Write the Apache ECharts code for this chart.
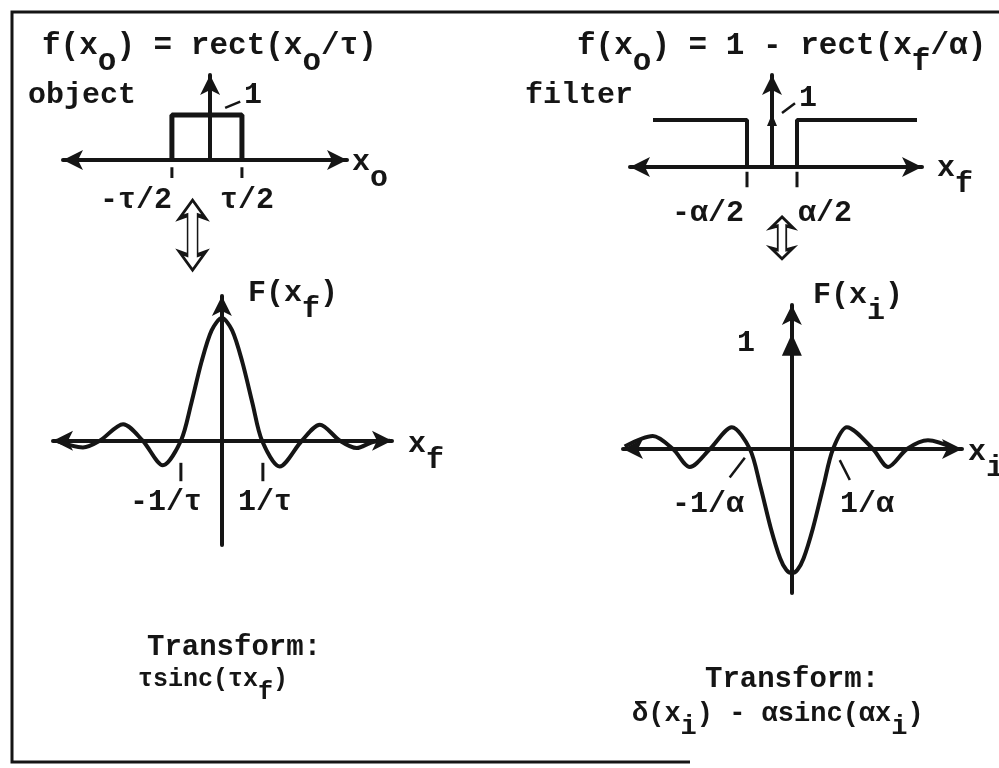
<!DOCTYPE html>
<html>
<head>
<meta charset="UTF-8">
<title>rect / sinc transform pairs</title>
<script src="https://cdn.jsdelivr.net/npm/echarts@6/dist/echarts.min.js"></script>
</head>
<body style="margin:0;background:#fff">
<div id="main" style="width:999px;height:768px;"></div>
<script>
// ---- data (x in label units, y normalised to 1) ----
// panel 1: object rect(x_o / tau), x unit = tau/2
var objRect = [[-1.09, 0], [-1.09, 1], [0.91, 1], [0.91, 0]];
var objTicks = [[[-1.09, -0.16], [-1.09, -0.4]], [[0.91, -0.16], [0.91, -0.4]]];
var objLeader = [[0.43, 1.16], [0.86, 1.3]];
var objSwap = [[-0.5, -1.67]];

// panel 2: filter 1 - rect(x_f / alpha), x unit = alpha/2
var filterLeft = [[-4.76, 1], [-1.0, 1], [-1.0, 0]];
var filterRight = [[1.0, 0], [1.0, 1], [5.8, 1]];
var filterTicks = [[[-1, -0.1], [-1, -0.43]], [[1, -0.1], [1, -0.43]]];
var filterLeader = [[0.4, 1.15], [0.92, 1.36]];
var filterPeak = [[0, 1]];
var filterSwap = [[0.4, -1.51]];

// panel 3: tau sinc(tau x_f), x unit = 1/tau
var sincX = [-4.05, -3.39, -2.98, -2.41, -1.93, -1.44, -1.0, -0.75, -0.5, -0.25, 0, 0.25, 0.5, 0.75, 0.98, 1.41, 1.95, 2.39, 2.88, 3.29, 3.68, 4.1];
var sincY = [0, -0.055, 0, 0.135, 0, -0.2, 0, 0.3, 0.64, 0.9, 1, 0.9, 0.64, 0.3, 0, -0.21, 0, 0.13, 0, -0.06, -0.01, 0];
var sincTicks = [[[-1, -0.18], [-1, -0.33]], [[1, -0.18], [1, -0.33]]];

// panel 4: delta(x_i) - alpha sinc(alpha x_i), x unit = 1/alpha
var imgX = [-3.98, -3.31, -2.83, -2.43, -1.95, -1.43, -1.0, -0.75, -0.5, -0.28, -0.13, 0, 0.13, 0.28, 0.5, 0.75, 0.98, 1.31, 1.93, 2.29, 2.74, 3.24, 3.9];
var imgY = [0.02, 0.105, 0, -0.145, 0, 0.175, 0, -0.3, -0.64, -0.88, -0.975, -1.0, -0.975, -0.88, -0.64, -0.3, 0, 0.175, 0, -0.145, 0, 0.07, 0];
var deltaMark = [[0, 0.84]];
var imgLeaders = [[[-1.12, -0.07], [-1.48, -0.23]], [[1.14, -0.09], [1.38, -0.25]]];

var ink = '#151515';
var myChart = echarts.init(document.getElementById('main'));

function zip(xs, ys) {
  return xs.map(function (x, i) { return [x, ys[i]]; });
}

function lineSeries(grid, data, width, smooth) {
  return {
    type: 'line', xAxisIndex: grid, yAxisIndex: grid, data: data,
    symbol: 'none', smooth: smooth || false, clip: false, silent: true,
    lineStyle: { color: ink, width: width }
  };
}

function markSeries(grid, data, symbol, size, fill) {
  return {
    type: 'scatter', xAxisIndex: grid, yAxisIndex: grid, data: data, clip: false, silent: true,
    symbol: symbol, symbolSize: size,
    itemStyle: { color: fill, borderColor: ink, borderWidth: fill === ink ? 0 : 2.5, opacity: 1 }
  };
}

function makeAxes(grid, xr, yr) {
  var lineStyle = { color: ink, width: 4 };
  return {
    x: {
      gridIndex: grid, type: 'value', min: xr[0], max: xr[1],
      axisLine: { onZero: true, lineStyle: lineStyle, symbol: ['arrow', 'arrow'], symbolSize: [15, 20] },
      axisTick: { show: false }, axisLabel: { show: false }, splitLine: { show: false }
    },
    y: {
      gridIndex: grid, type: 'value', min: yr[0], max: yr[1],
      axisLine: { onZero: true, lineStyle: lineStyle, symbol: ['none', 'arrow'], symbolSize: [15, 20] },
      axisTick: { show: false }, axisLabel: { show: false }, splitLine: { show: false }
    }
  };
}

var axes = [
  makeAxes(0, [-4.2, 3.91], [0, 1.89]),
  makeAxes(1, [-5.68, 6.0], [0, 1.96]),
  makeAxes(2, [-4.12, 4.15], [-0.85, 1.18]),
  makeAxes(3, [-4.02, 4.05], [-1.16, 1.16])
];

var swapPath = 'path://M13,0 L26,18 L18,15 L18,55 L26,52 L13,70 L0,52 L8,55 L8,15 L0,18 Z';

var series = [];
series.push(lineSeries(0, objRect, 5));
objTicks.forEach(function (t) { series.push(lineSeries(0, t, 3)); });
series.push(lineSeries(0, objLeader, 2.5));
series.push(markSeries(0, objSwap, swapPath, [26, 70], '#fff'));

series.push(lineSeries(1, filterLeft, 4));
series.push(lineSeries(1, filterRight, 4));
filterTicks.forEach(function (t) { series.push(lineSeries(1, t, 3)); });
series.push(lineSeries(1, filterLeader, 2.5));
series.push(markSeries(1, filterPeak, 'triangle', [10, 12], ink));
series.push(markSeries(1, filterSwap, swapPath, [22, 42], '#fff'));

series.push(lineSeries(2, zip(sincX, sincY), 4, 0.3));
sincTicks.forEach(function (t) { series.push(lineSeries(2, t, 3)); });

series.push(lineSeries(3, zip(imgX, imgY), 4, 0.3));
imgLeaders.forEach(function (t) { series.push(lineSeries(3, t, 2.5)); });
series.push(markSeries(3, deltaMark, 'triangle', [20, 22], ink));

// text helpers: {s|..} drops a character to subscript position
function rich(size, drop) {
  return {
    s: {
      fontFamily: 'Liberation Mono', fontWeight: 'bold', fontSize: size,
      fill: ink, color: ink, padding: [drop * 2, 0, 0, 0]
    }
  };
}
function txt(x, y, s, size, drop) {
  size = size || 30;
  return {
    type: 'text', x: x, y: y, silent: true,
    style: {
      text: s, fill: ink,
      font: 'bold ' + size + 'px "Liberation Mono"',
      fontFamily: 'Liberation Mono', fontWeight: 'bold', fontSize: size,
      textAlign: 'left', align: 'left',
      textVerticalAlign: 'middle', verticalAlign: 'middle',
      rich: rich(size, drop || 16)
    }
  };
}

var graphics = [
  { type: 'polyline', silent: true, shape: { points: [[999, 12], [12, 12], [12, 762], [690, 762]] },
    style: { stroke: ink, lineWidth: 3, fill: null } },

  txt(42, 46, 'f(x{s|o}) = rect(x{s|o}/τ)', 31),
  txt(28, 95, 'object'),
  txt(244, 95, '1'),
  txt(100, 200, '-τ/2'),
  txt(220, 200, 'τ/2'),
  txt(352, 162, 'x{s|o}'),

  txt(577, 46, 'f(x{s|o}) = 1 - rect(x{s|f}/α)', 31),
  txt(525, 95, 'filter'),
  txt(799, 98, '1'),
  txt(672, 213, '-α/2'),
  txt(798, 213, 'α/2'),
  txt(937, 168, 'x{s|f}'),

  txt(248, 293, 'F(x{s|f})'),
  txt(408, 444, 'x{s|f}'),
  txt(130, 502, '-1/τ'),
  txt(238, 502, '1/τ'),

  txt(813, 295, 'F(x{s|i})'),
  txt(737, 343, '1'),
  txt(968, 452, 'x{s|i}'),
  txt(672, 504, '-1/α'),
  txt(840, 504, '1/α'),

  txt(147, 648, 'Transform:', 29),
  txt(138, 680, 'τsinc(τx{s|f})', 25, 13),
  txt(705, 680, 'Transform:', 29),
  txt(632, 714, 'δ(x{s|i}) - αsinc(αx{s|i})', 27, 13)
];

var option = {
  animation: false,
  backgroundColor: '#fff',
  grid: [
    { left: 63, top: 75, width: 284, height: 85 },
    { left: 630, top: 75, width: 292, height: 92 },
    { left: 53, top: 296, width: 339, height: 249 },
    { left: 623, top: 305, width: 339, height: 288 }
  ],
  xAxis: axes.map(function (a) { return a.x; }),
  yAxis: axes.map(function (a) { return a.y; }),
  series: series,
  graphic: graphics
};

myChart.setOption(option);
</script>
</body>
</html>
